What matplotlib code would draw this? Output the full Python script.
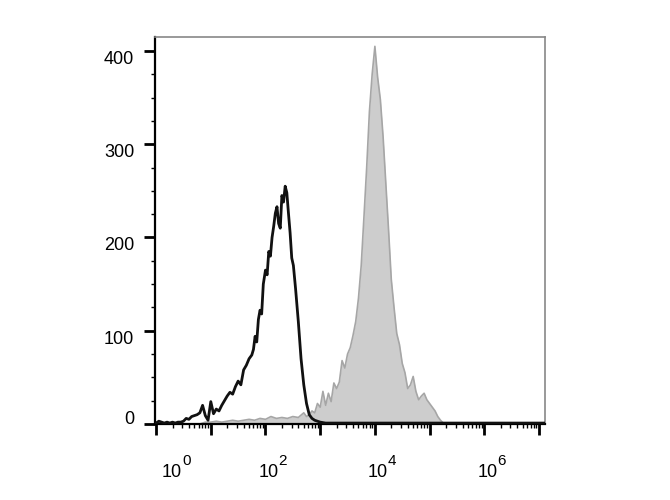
import matplotlib
matplotlib.use('Agg')
import matplotlib.pyplot as plt
from matplotlib.ticker import MultipleLocator, FixedLocator, NullFormatter
import numpy as np

plt.rcParams['font.family'] = ['Liberation Sans', 'DejaVu Sans']

# black (control) histogram: log10 of intensity, event counts
ctrl_log = [0.00, 0.05, 0.10, 0.15, 0.20, 0.25, 0.30, 0.35, 0.40, 0.45,
            0.50, 0.55, 0.60, 0.65, 0.70, 0.75, 0.80, 0.85, 0.90, 0.95,
            1.00, 1.05, 1.10, 1.15, 1.20, 1.25, 1.30, 1.35, 1.40, 1.45,
            1.50, 1.55, 1.60, 1.65, 1.70, 1.75, 1.78, 1.81, 1.84, 1.87,
            1.90, 1.93, 1.96, 2.00, 2.03, 2.06, 2.09, 2.12, 2.15, 2.18,
            2.21, 2.24, 2.27, 2.30, 2.33, 2.36, 2.39, 2.42, 2.45, 2.48,
            2.51, 2.55, 2.60, 2.65, 2.70, 2.75, 2.80, 2.85, 2.90, 2.95,
            3.00, 3.10, 3.20, 3.50, 4.00, 5.00, 6.00, 7.10]
ctrl_counts = [1, 3, 2, 1, 2, 1, 2, 1, 2, 2,
               3, 6, 5, 8, 9, 10, 12, 20, 9, 4,
               24, 11, 16, 14, 20, 25, 30, 34, 32, 40,
               46, 42, 58, 63, 70, 74, 80, 94, 88, 112,
               122, 118, 150, 165, 160, 185, 180, 200, 212, 226,
               233, 215, 210, 245, 238, 255, 248, 226, 205, 178,
               170, 145, 110, 70, 42, 22, 10, 6, 4, 3,
               2, 1, 1, 1, 1, 1, 1, 1]

# grey (stained) histogram
stain_log = [0.80, 0.85, 0.90, 1.00, 1.10, 1.20, 1.30, 1.40, 1.50, 1.60,
             1.70, 1.80, 1.90, 2.00, 2.10, 2.20, 2.30, 2.40, 2.50, 2.60,
             2.70, 2.75, 2.80, 2.85, 2.90, 2.95, 3.00, 3.05, 3.10, 3.15,
             3.20, 3.25, 3.30, 3.35, 3.40, 3.45, 3.50, 3.55, 3.60, 3.65,
             3.70, 3.75, 3.80, 3.85, 3.90, 3.95, 4.00, 4.05, 4.10, 4.15,
             4.20, 4.25, 4.30, 4.35, 4.40, 4.45, 4.50, 4.55, 4.60, 4.65,
             4.70, 4.75, 4.80, 4.85, 4.90, 4.95, 5.00, 5.05, 5.10, 5.15,
             5.20, 5.25, 5.30, 6.00, 7.10]
stain_counts = [0, 1, 2, 2, 3, 2, 3, 4, 3, 4,
                5, 4, 6, 5, 8, 6, 7, 6, 8, 7,
                12, 8, 10, 14, 12, 22, 18, 35, 20, 33,
                24, 44, 38, 45, 68, 60, 75, 82, 95, 110,
                135, 170, 222, 275, 335, 375, 405, 372, 348, 308,
                258, 208, 155, 125, 97, 85, 65, 55, 38, 42,
                51, 35, 26, 30, 33, 26, 22, 18, 14, 8,
                4, 1, 0, 0, 0]

y_ticks = [0, 100, 200, 300, 400]
label_exps = [0, 2, 4, 6]

fig = plt.figure(figsize=(6.7, 5), dpi=100)
ax = fig.add_axes([155 / 670, 1 - 424 / 500, 390 / 670, 387 / 500])

sx = 10 ** np.array(stain_log)
cx = 10 ** np.array(ctrl_log)
ax.fill_between(sx, stain_counts, 0, color='#cdcdcd', lw=0, zorder=1)
ax.plot(sx, stain_counts, color='#a6a6a6', lw=1.2, zorder=2)
ax.plot(cx, ctrl_counts, color='#111111', lw=2.0, zorder=3)

ax.set_xscale('log')
ax.set_xlim(10 ** -0.02, 10 ** 7.11)
ax.set_ylim(0, 415)

# ticks
ax.xaxis.set_major_locator(FixedLocator([10.0 ** i for i in range(8)]))
minors = [k * 10.0 ** i for i in range(7) for k in range(2, 10)]
ax.xaxis.set_minor_locator(FixedLocator(minors))
ax.xaxis.set_major_formatter(NullFormatter())
ax.xaxis.set_minor_formatter(NullFormatter())
ax.set_yticks(y_ticks)
ax.yaxis.set_minor_locator(MultipleLocator(25))

ax.tick_params(which='major', direction='out', length=8, width=2, color='black')
ax.tick_params(which='minor', direction='out', length=3, width=1, color='black')
ax.tick_params(axis='y', which='major', labelsize=13, pad=7)

for t in ax.yaxis.get_major_ticks():
    t.label1.set_va('top')
ax.yaxis.get_major_ticks()[0].label1.set_va('baseline')

for side in ['top', 'right']:
    ax.spines[side].set_color('#888888')
    ax.spines[side].set_linewidth(1.2)
for side in ['left', 'bottom']:
    ax.spines[side].set_color('black')
    ax.spines[side].set_linewidth(1.6)

# x labels drawn as 10 + superscript, FlowJo style
for e in label_exps:
    dx = 16 if e == 0 else 3
    ax.annotate('10', xy=(10.0 ** e, 0), xycoords=('data', 'axes fraction'),
                xytext=(dx, -53), textcoords='offset pixels',
                ha='center', va='baseline', fontsize=13, annotation_clip=False)
    ax.annotate(str(e), xy=(10.0 ** e, 0), xycoords=('data', 'axes fraction'),
                xytext=(dx + 10, -41), textcoords='offset pixels',
                ha='left', va='baseline', fontsize=11, annotation_clip=False)

plt.savefig('out.png', dpi=100)
